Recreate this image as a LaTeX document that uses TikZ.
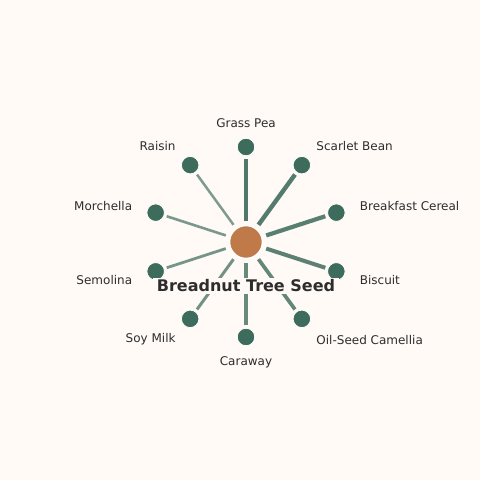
\documentclass[tikz,border=0pt]{standalone}
\usepackage{fontspec}
\setmainfont{DejaVu Sans}
\usetikzlibrary{calc}
\definecolor{bg}{HTML}{FFFAF6}
\definecolor{leafc}{HTML}{3D6B5C}
\definecolor{hubc}{HTML}{C07A4A}
\definecolor{txt}{HTML}{2D2D2D}
\begin{document}
\begin{tikzpicture}[x=1pt,y=1pt,
  hub/.style={circle,fill=hubc,draw=white,line width=1.5pt,minimum size=33pt,inner sep=0pt},
  leaf/.style={circle,fill=leafc,draw=white,line width=0.8pt,minimum size=17.5pt,inner sep=0pt},
  spoke/.style={draw=leafc,shorten <=4pt,shorten >=2.5pt},
  lbl/.style={font=\fontsize{12}{14}\selectfont,text=txt,inner sep=0pt,yshift=-1pt},
  title/.style={font=\fontsize{16}{19}\bfseries\selectfont,text=txt,fill=bg,inner xsep=3.5pt,inner ysep=1.5pt}]
\fill[bg] (0,0) rectangle (480,480);
\useasboundingbox (0,0) rectangle (480,480);
\node[hub] (c) at (246,238) {};
\foreach \i/\ang/\name/\anch/\w/\op in {
  0/90/Grass Pea/center/4.5/0.9,
  1/54/Scarlet Bean/west/4.4/0.88,
  2/18/Breakfast Cereal/west/4.2/0.86,
  3/-18/Biscuit/west/4.0/0.84,
  4/-54/Oil-Seed Camellia/west/3.7/0.8,
  5/-90/Caraway/center/3.4/0.78,
  6/-126/Soy Milk/east/3.0/0.72,
  7/-162/Semolina/east/2.8/0.7,
  8/162/Morchella/east/2.6/0.68,
  9/126/Raisin/east/2.5/0.66}{
  \node[leaf] (n\i) at ($(c.center)+(\ang:95)$) {};
  \path[spoke,line width=\w pt,draw opacity=\op] (c) -- (n\i);
  \node[lbl,anchor=\anch] (t\i) at ($(c.center)+(\ang:119.5)$) {\name};
}
\node[title] (tt) at (246,194) {Breadnut Tree Seed};
\end{tikzpicture}
\end{document}
